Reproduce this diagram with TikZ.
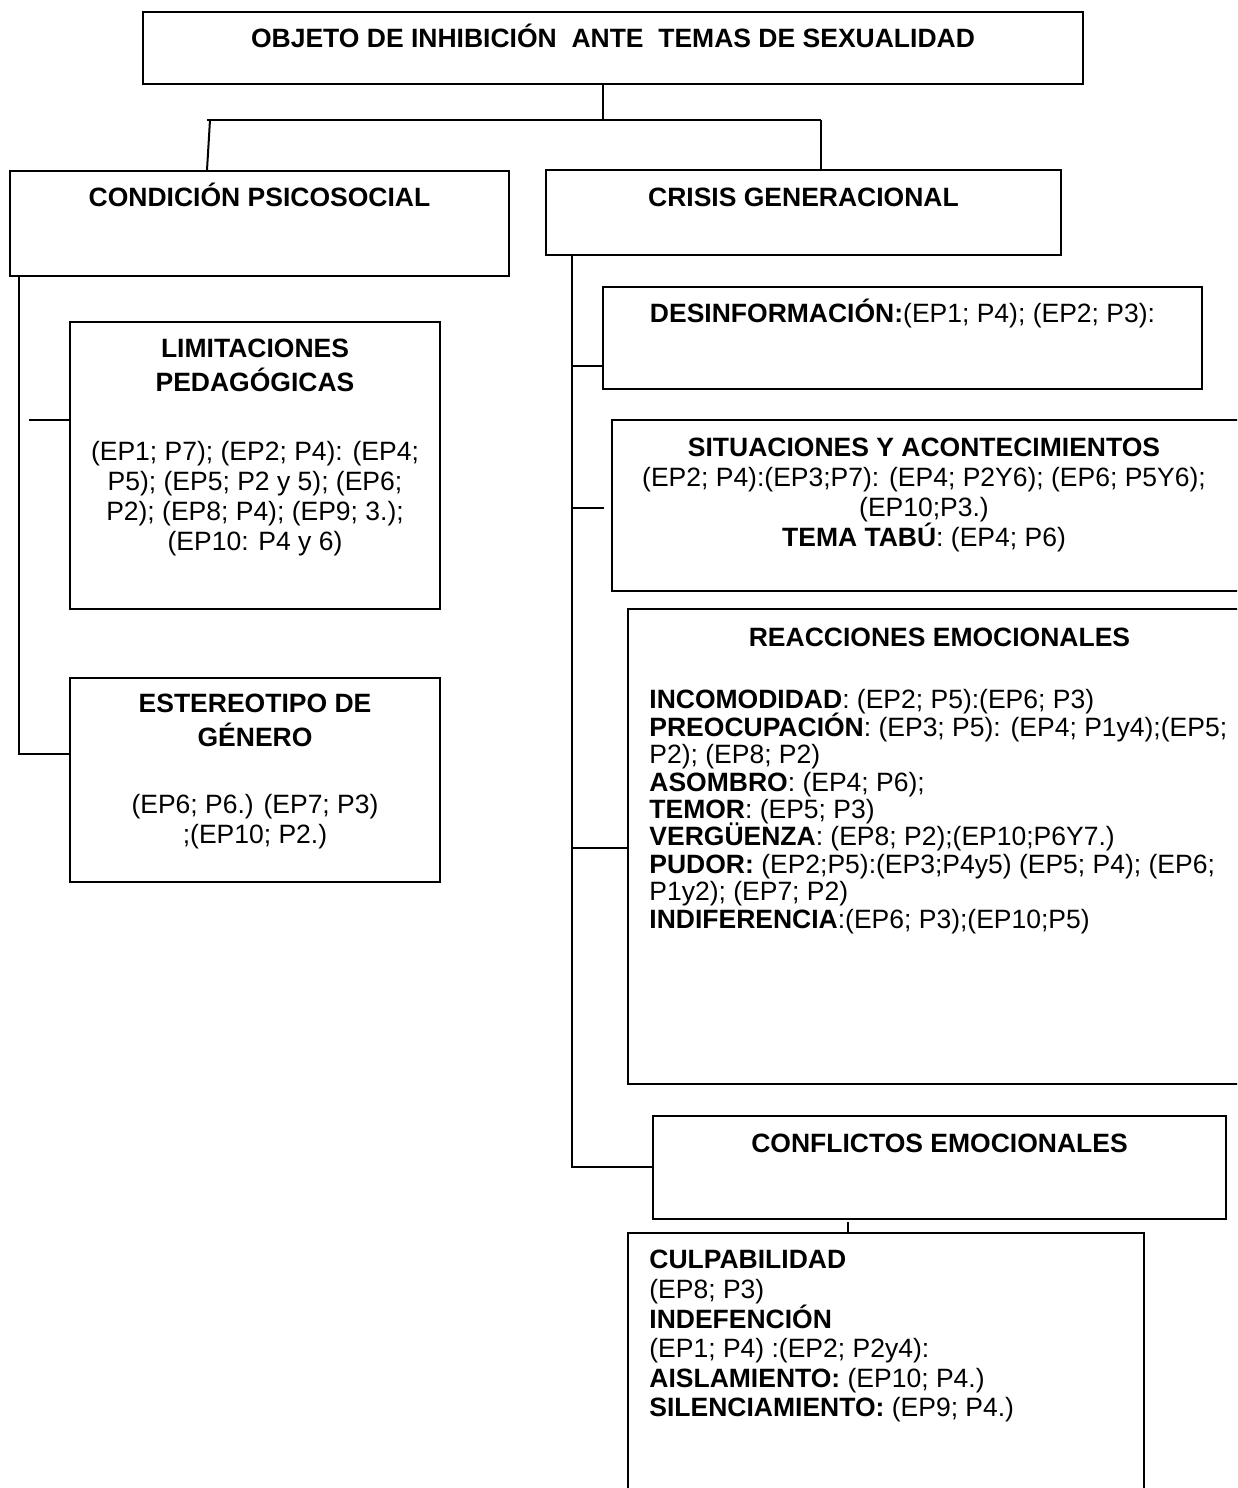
\documentclass[tikz,border=0pt]{standalone}
\usepackage{fontspec}
\setmainfont{Liberation Sans}
\usetikzlibrary{fit}
\newcommand\firstln{\rule{0pt}{13pt}}
\newcommand\tightlns{\lineskiplimit=-20pt\relax}
\begin{document}
\begin{tikzpicture}[x=0.5pt,y=-0.5pt,
  box/.style={draw, line width=1pt, inner sep=0pt},
  lsk/.style={font=\fontsize{13.25pt}{#1}\selectfont\tightlns},
  txt/.style={inner sep=0pt, lsk=15pt},
  ctxt/.style={txt, align=center, anchor=north},
  ltxt/.style={txt, align=left, anchor=north west},
  conn/.style={line width=1pt}]
\useasboundingbox (0,0) rectangle (1237,1488);
\clip (0,0) rectangle (1237,1488);
\fill[white] (0,0) rectangle (1237,1488);

% boxes
\node[box, fit={(143,12) (1083,84)}] (top) {};
\node[box, fit={(10,171) (509,276)}] (cond) {};
\node[box, fit={(546,170) (1061,255)}] (crisis) {};
\node[box, fit={(70,322) (440,609)}] (lim) {};
\node[box, fit={(70,678) (440,882)}] (est) {};
\node[box, fit={(603,287) (1202,389)}] (des) {};
\node[box, fit={(612,420) (1245,591)}] (sit) {};
\node[box, fit={(628,609) (1251,1084)}] (reac) {};
\node[box, fit={(653,1116) (1226,1219)}] (conf) {};
\node[box, fit={(628,1233) (1144,1510)}] (bot) {};

% texts
\node[ctxt] (topT) at (613,21.5) {\firstln\textbf{OBJETO DE INHIBICIÓN\ \ ANTE\ \ TEMAS DE SEXUALIDAD}};
\node[ctxt] (condT) at (259.5,180.5) {\firstln\textbf{CONDICIÓN PSICOSOCIAL}};
\node[ctxt] (crisisT) at (803.5,180.5) {\firstln\textbf{CRISIS GENERACIONAL}};
\node[ctxt, lsk=17pt] (limT) at (255,331.5) {\firstln\textbf{LIMITACIONES}\\\textbf{PEDAGÓGICAS}};
\node[ctxt, lsk=15pt] (limB) at (255,434.5) {\firstln(EP1; P7); (EP2; P4): (EP4;\\P5); (EP5; P2 y 5); (EP6;\\P2); (EP8; P4); (EP9; 3.);\\(EP10: P4 y 6)};
\node[ctxt, lsk=17pt] (estT) at (255,686.5) {\firstln\textbf{ESTEREOTIPO DE}\\\textbf{GÉNERO}};
\node[ctxt, lsk=15pt] (estB) at (255,787.5) {\firstln(EP6; P6.) (EP7; P3)\\;(EP10; P2.)};
\node[ctxt] (desT) at (902.5,296.5) {\firstln\textbf{DESINFORMACIÓN:}(EP1; P4); (EP2; P3):};
\node[ctxt, lsk=15pt] (sitT) at (924,430.5) {\firstln\textbf{SITUACIONES Y ACONTECIMIENTOS}\\(EP2; P4):(EP3;P7): (EP4; P2Y6); (EP6; P5Y6);\\(EP10;P3.)\\\textbf{TEMA TABÚ}: (EP4; P6)};
\node[ctxt] (reacT) at (939.5,620.5) {\firstln\textbf{REACCIONES EMOCIONALES}};
\node[ltxt, lsk=13.7pt] (reacB) at (649,682.5) {\firstln\textbf{INCOMODIDAD}: (EP2; P5):(EP6; P3)\\
\textbf{PREOCUPACIÓN}: (EP3; P5): (EP4; P1y4);(EP5;\\
P2); (EP8; P2)\\
\textbf{ASOMBRO}: (EP4; P6);\\
\textbf{TEMOR}: (EP5; P3)\\
\textbf{VERGÜENZA}: (EP8; P2);(EP10;P6Y7.)\\
\textbf{PUDOR:} (EP2;P5):(EP3;P4y5) (EP5; P4); (EP6;\\
P1y2); (EP7; P2)\\
\textbf{INDIFERENCIA}:(EP6; P3);(EP10;P5)};
\node[ctxt] (confT) at (939.5,1126.5) {\firstln\textbf{CONFLICTOS EMOCIONALES}};
\node[ltxt, lsk=14.8pt] (botB) at (649,1242.5) {\firstln\textbf{CULPABILIDAD}\\
(EP8; P3)\\
\textbf{INDEFENCIÓN}\\
(EP1; P4) :(EP2; P2y4):\\
\textbf{AISLAMIENTO:} (EP10; P4.)\\
\textbf{SILENCIAMIENTO:} (EP9; P4.)};

% connectors
\coordinate (j0) at (603,120);
\coordinate (hl) at (207,120);
\coordinate (hr) at (821,120);
\coordinate (lt) at (210,120);
\draw[conn] (top.south -| j0) -- (j0);
\draw[conn] (hl) -- (hr);
\draw[conn] (lt) -- (cond.north -| hl);
\draw[conn] (hr) -- (hr |- crisis.north);

\coordinate (ls) at (19,754);
\draw[conn] (cond.south -| ls) -- (ls) -- (ls -| est.west);
\coordinate (lst) at (29,420);
\draw[conn] (lst) -- (lst -| lim.west);

\coordinate (rs) at (572,1167);
\draw[conn] (crisis.south -| rs) -- (rs) -- (rs -| conf.west);
\coordinate (s1) at (572,366);
\draw[conn] (s1) -- (s1 -| des.west);
\coordinate (s2) at (572,508);
\coordinate (s2e) at (604,508);
\draw[conn] (s2) -- (s2e);
\coordinate (s3) at (572,848);
\draw[conn] (s3) -- (s3 -| reac.west);
\coordinate (cb) at (848,1222);
\draw[conn] (cb) -- (cb |- bot.north);
\end{tikzpicture}
\end{document}
